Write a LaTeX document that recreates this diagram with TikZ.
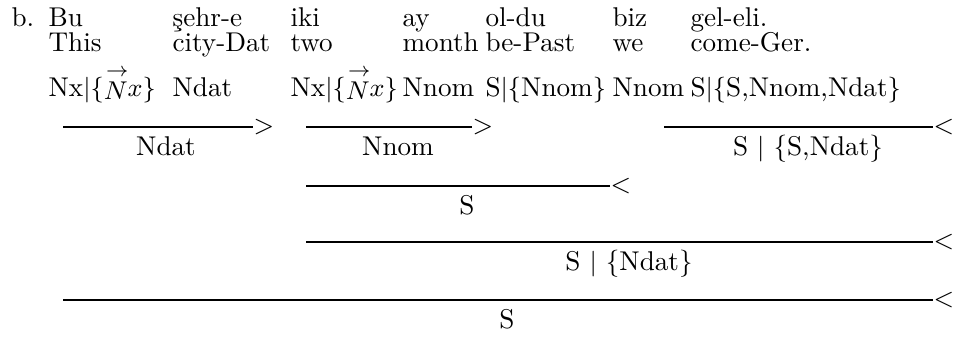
\documentclass[tikz,border=0pt]{standalone}
\begin{document}
\begin{tikzpicture}[
    x=0.35pt,
    y=-0.35pt,
    every node/.style={
        inner sep=0pt,
        font=\fontsize{9.5}{11}\selectfont
    },
    word/.style={
        anchor=base west
    },
    result/.style={
        anchor=base
    },
    tip/.style={
        anchor=west
    },
    rule/.style={
        line width=0.7pt
    },
    thickrule/.style={
        line width=1pt
    }
]
\useasboundingbox (0,0) rectangle (963,337);

% =================================================
% Words, glosses and categories
% =================================================

\node[word] (ex)  at (11,27)  {b.};

\node[word] (w1)  at (48,27)  {Bu};
\node[word] (w2)  at (172,27) {\c{s}ehr-e};
\node[word] (w3)  at (290,27) {iki};
\node[word] (w4)  at (402,27) {ay};
\node[word] (w5)  at (485,27) {ol-du};
\node[word] (w6)  at (612,27) {biz};
\node[word] (w7)  at (690,27) {gel-eli.};

\node[word] (g1)  at (48,52)  {This};
\node[word] (g2)  at (172,52) {city-Dat};
\node[word] (g3)  at (290,52) {two};
\node[word] (g4)  at (402,52) {month};
\node[word] (g5)  at (485,52) {be-Past};
\node[word] (g6)  at (612,52) {we};
\node[word] (g7)  at (690,52) {come-Ger.};

\node[word] (c1)  at (48,97)  {Nx$|\{{\stackrel{\rightarrow}{N}}x\}$};
\node[word] (c2)  at (172,97) {Ndat};
\node[word] (c3)  at (290,97) {Nx$|\{{\stackrel{\rightarrow}{N}}x\}$};
\node[word] (c4)  at (402,97) {Nnom};
\node[word] (c5)  at (485,97) {S$|\{$Nnom$\}$};
\node[word] (c6)  at (612,97) {Nnom};
\node[word] (c7)  at (690,97) {S$|\{$S,Nnom,Ndat$\}$};

% =================================================
% Ends of the derivation lines
% =================================================

\coordinate (r1a) at (63,127);
\coordinate (r1b) at (253,127);
\coordinate (r2a) at (306,127);
\coordinate (r2b) at (472,127);
\coordinate (r3a) at (664,127);
\coordinate (r3b) at (933,127);
\coordinate (r4a) at (306,186);
\coordinate (r4b) at (610,186);
\coordinate (r5a) at (306,242);
\coordinate (r5b) at (933,242);
\coordinate (r6a) at (63,300);
\coordinate (r6b) at (933,300);

% =================================================
% Derivation lines
% =================================================

\draw[rule] (r1a)--(r1b);
\node[tip] (t1) at (r1b) {$>$};
\node[result] (s1) at (166,156) {Ndat};

\draw[rule] (r2a)--(r2b);
\node[tip] (t2) at (r2b) {$>$};
\node[result] (s2) at (398,156) {Nnom};

\draw[rule] (r3a)--(r3b);
\node[tip] (t3) at (r3b) {$<$};
\node[result] (s3) at (808,156) {S $|$ \{S,Ndat\}};

\draw[thickrule] (r4a)--(r4b);
\node[tip] (t4) at (r4b) {$<$};
\node[result] (s4) at (467,215) {S};

\draw[thickrule] (r5a)--(r5b);
\node[tip] (t5) at (r5b) {$<$};
\node[result] (s5) at (629,271) {S $|$ \{Ndat\}};

\draw[thickrule] (r6a)--(r6b);
\node[tip] (t6) at (r6b) {$<$};
\node[result] (s6) at (507,329) {S};

\end{tikzpicture}
\end{document}
